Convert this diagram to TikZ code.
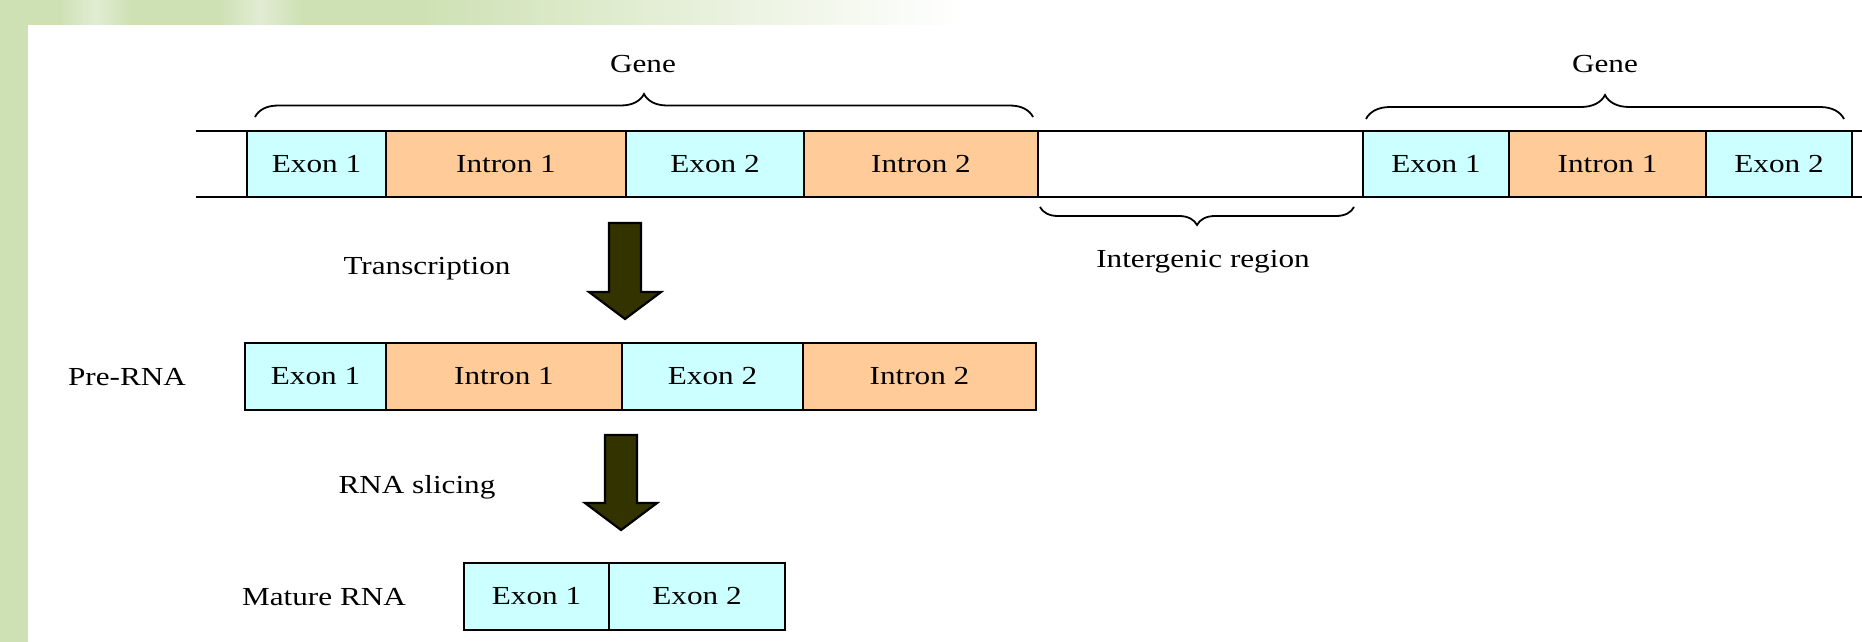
\documentclass[tikz,border=0pt]{standalone}
\usepackage{fontspec}
\setmainfont{Liberation Serif}[FakeStretch=1.2]
\usetikzlibrary{decorations.pathreplacing}

\definecolor{exoncol}{HTML}{CCFFFF}
\definecolor{introncol}{HTML}{FFCC99}
\definecolor{arrowcol}{HTML}{333300}
\definecolor{leafgreen}{RGB}{206,225,180}
\definecolor{leafpale}{RGB}{226,236,212}

\tikzset{
  lbl/.style={font=\fontsize{26}{30}\selectfont, inner sep=0pt, anchor=base},
  seg/.style={draw, line width=2.4pt, inner sep=0pt, outer sep=0pt, anchor=west,
              font=\fontsize{26}{30}\selectfont},
  dnaseg/.style={seg, minimum height=66pt},
  rnaseg/.style={seg, minimum height=67pt},
  exon/.style={fill=exoncol},
  intron/.style={fill=introncol},
  spacer/.style={fill=white},
  strand/.style={line width=2.2pt},
  genebrace/.style={decorate, line width=1.8pt,
                    decoration={brace, amplitude=#1}},
  blockarrow/.style={draw=black, fill=arrowcol, line width=2.2pt, line join=miter},
}

\begin{document}
\begin{tikzpicture}[x=1pt, y=-1pt]
\useasboundingbox (0,0) rectangle (1862,642);

% soft leafy backdrop
\fill[leafgreen] (0,0) rectangle (420,642);
\shade[left color=leafgreen, right color=white] (420,0) rectangle (960,26);
\fill[white] (960,0) rectangle (1862,26);
\shade[left color=leafgreen, right color=leafpale] (60,0) rectangle (95,26);
\shade[left color=leafpale, right color=leafgreen] (95,0) rectangle (130,26);
\shade[left color=leafgreen, right color=leafpale] (220,0) rectangle (260,26);
\shade[left color=leafpale, right color=leafgreen] (260,0) rectangle (300,26);

% white sheet
\fill[white] (28,25) rectangle (1862,642);

% ---------------- DNA strand ----------------
\coordinate (topL) at (196,131);
\coordinate (topR) at (1862,131);
\coordinate (botL) at (196,197);
\coordinate (botR) at (1862,197);
\draw[strand] (topL) -- (topR);
\draw[strand] (botL) -- (botR);

\node[dnaseg, exon,   minimum width=139pt] (dE1)  at (247,164)   {Exon 1};
\node[dnaseg, intron, minimum width=240pt] (dI1)  at (dE1.east)  {Intron 1};
\node[dnaseg, exon,   minimum width=178pt] (dE2)  at (dI1.east)  {Exon 2};
\node[dnaseg, intron, minimum width=234pt] (dI2)  at (dE2.east)  {Intron 2};
\node[dnaseg, spacer, minimum width=325pt] (dGap) at (dI2.east)  {};
\node[dnaseg, exon,   minimum width=146pt] (dF1)  at (dGap.east) {Exon 1};
\node[dnaseg, intron, minimum width=197pt] (dJ1)  at (dF1.east)  {Intron 1};
\node[dnaseg, exon,   minimum width=146pt] (dF2)  at (dJ1.east)  {Exon 2};

% braces marking the genes and the gap between them
\coordinate (braceAs) at (255,117);
\coordinate (braceAe) at (1033,117);
\coordinate (braceBs) at (1366,119);
\coordinate (braceBe) at (1844,119);
\coordinate (braceCs) at (1354,207);
\coordinate (braceCe) at (1040,207);
\draw[genebrace=23pt] (braceAs) -- (braceAe);
\draw[genebrace=24pt] (braceBs) -- (braceBe);
\draw[genebrace=18pt] (braceCs) -- (braceCe);

\node[lbl] (geneA) at (643,72) {Gene};
\node[lbl] (geneB) at (1605,72) {Gene};
\node[lbl] (intergenic) at (1203,267) {Intergenic region};

% ---------------- transcription ----------------
\node[lbl] (transcr) at (427,274) {Transcription};
\coordinate (arrA) at (625,223);
\draw[blockarrow] (arrA) ++(-16,0) -- ++(32,0) -- ++(0,69) -- ++(20,0)
  -- ++(-36,27) -- ++(-36,-27) -- ++(20,0) -- cycle;

% ---------------- pre-RNA ----------------
\node[lbl] (prerna) at (127,385) {Pre-RNA};
\node[rnaseg, exon,   minimum width=141pt] (pE1) at (245,376.5) {Exon 1};
\node[rnaseg, intron, minimum width=236pt] (pI1) at (pE1.east)  {Intron 1};
\node[rnaseg, exon,   minimum width=181pt] (pE2) at (pI1.east)  {Exon 2};
\node[rnaseg, intron, minimum width=233pt] (pI2) at (pE2.east)  {Intron 2};

% ---------------- splicing ----------------
\node[lbl] (splicing) at (417,493) {RNA slicing};
\coordinate (arrB) at (621,435);
\draw[blockarrow] (arrB) ++(-16,0) -- ++(32,0) -- ++(0,68) -- ++(20,0)
  -- ++(-36,27) -- ++(-36,-27) -- ++(20,0) -- cycle;

% ---------------- mature RNA ----------------
\node[lbl] (mature) at (324,605) {Mature RNA};
\node[rnaseg, exon, minimum width=145pt] (mE1) at (464,596.5) {Exon 1};
\node[rnaseg, exon, minimum width=176pt] (mE2) at (mE1.east)  {Exon 2};
\end{tikzpicture}
\end{document}
